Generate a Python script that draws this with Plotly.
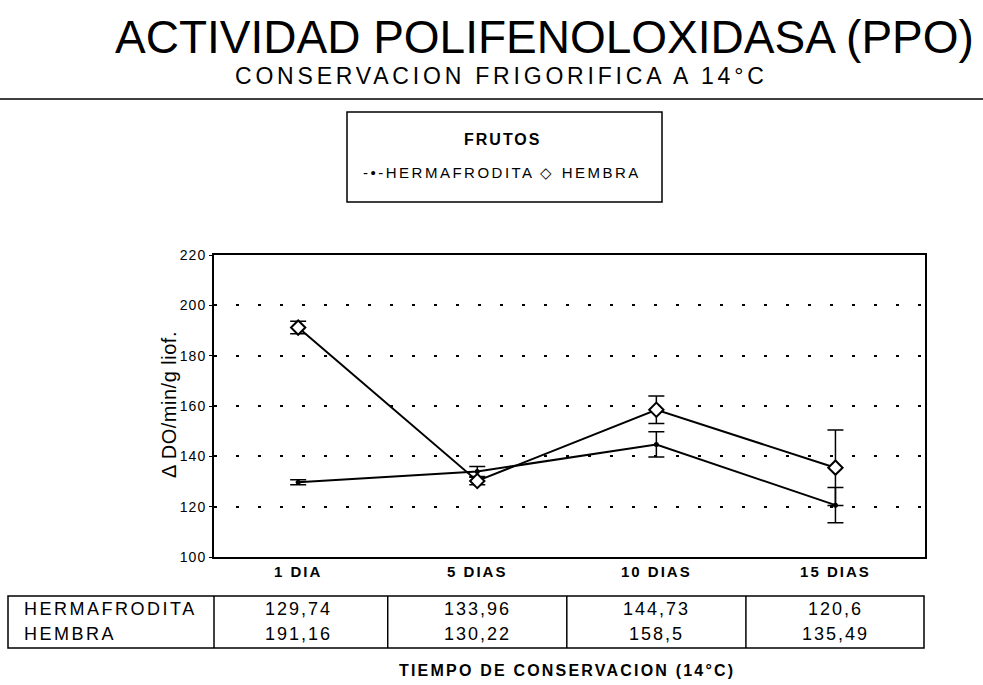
import plotly.graph_objects as go

# data
dias = ["1 DIA", "5 DIAS", "10 DIAS", "15 DIAS"]
hermafrodita = [129.74, 133.96, 144.73, 120.6]
hembra = [191.16, 130.22, 158.5, 135.49]
err_hermafrodita = [1.0, 2.0, 5.0, 7.0]
err_hembra = [2.5, 1.5, 5.5, 15.0]
y_ticks = [100, 120, 140, 160, 180, 200, 220]

FONT = "Liberation Sans, Arial, sans-serif"

# figure pixels -> paper coords (plot area is 214..925 x 255..557)
L, R, T, B = 214, 925, 255, 557


def px(x):
    return (x - L) / (R - L)


def py(y):
    return (B - y) / (B - T)


def fmt(v):
    return f"{v:g}".replace(".", ",")


def spaced(text, ls):
    # the scanned original has wide letter tracking
    return f'<span style="letter-spacing:{ls}px">{text}</span>'


fig = go.Figure()

fig.add_trace(go.Scatter(
    x=dias, y=hermafrodita,
    mode="lines+markers",
    name="HERMAFRODITA",
    line=dict(color="black", width=2),
    marker=dict(symbol="circle", size=5, color="black"),
    error_y=dict(type="data", array=err_hermafrodita, color="black",
                 thickness=1.5, width=8),
))

fig.add_trace(go.Scatter(
    x=dias, y=hembra,
    mode="lines+markers",
    name="HEMBRA",
    line=dict(color="black", width=2),
    marker=dict(symbol="diamond", size=11, color="white",
                line=dict(color="black", width=2)),
    error_y=dict(type="data", array=err_hembra, color="black",
                 thickness=1.5, width=8),
))

annotations = [
    dict(text="ACTIVIDAD POLIFENOLOXIDASA (PPO)", x=px(544), y=py(37),
         font=dict(size=46, family=FONT)),
    dict(text=spaced("CONSERVACION FRIGORIFICA A 14°C", 3.8), x=px(501), y=py(76),
         font=dict(size=23, family=FONT)),
    dict(text=spaced("FRUTOS", 2), x=px(502), y=py(139),
         font=dict(size=16, family=FONT, weight="bold")),
    dict(text=spaced("-•-HERMAFRODITA ◇ HEMBRA", 2.5), x=px(502), y=py(172),
         font=dict(size=15, family=FONT)),
    dict(text=spaced("Δ DO/min/g liof.", 0.5), x=px(169), y=py(405), textangle=-90,
         font=dict(size=20, family=FONT)),
    dict(text=spaced("TIEMPO DE CONSERVACION (14°C)", 2.2), x=px(567), y=py(670),
         font=dict(size=16, family=FONT, weight="bold")),
    dict(text=spaced("HERMAFRODITA", 2.5), x=px(22), y=py(609), xanchor="left",
         font=dict(size=18, family=FONT)),
    dict(text=spaced("HEMBRA", 2.5), x=px(22), y=py(634), xanchor="left",
         font=dict(size=18, family=FONT)),
]
for d, h, m in zip(dias, hermafrodita, hembra):
    annotations.append(dict(text=spaced(fmt(h), 2), x=d, xref="x", y=py(609),
                            font=dict(size=18, family=FONT)))
    annotations.append(dict(text=spaced(fmt(m), 2), x=d, xref="x", y=py(634),
                            font=dict(size=18, family=FONT)))

for a in annotations:
    a.setdefault("xref", "paper")
    a.setdefault("yref", "paper")
    a.setdefault("showarrow", False)
    a.setdefault("xanchor", "center")
    a.setdefault("yanchor", "middle")

shapes = [
    # rule under the subtitle
    dict(type="line", xref="paper", yref="paper", x0=px(0), x1=px(983),
         y0=py(99), y1=py(99), line=dict(color="black", width=1.5)),
    # legend box
    dict(type="rect", xref="paper", yref="paper", x0=px(347), x1=px(662),
         y0=py(112), y1=py(202), line=dict(color="black", width=1.5)),
    # table frame
    dict(type="rect", xref="paper", yref="paper", x0=px(8), x1=px(924),
         y0=py(596), y1=py(648), line=dict(color="black", width=1.5)),
    dict(type="line", xref="paper", yref="paper", x0=0, x1=0,
         y0=py(596), y1=py(648), line=dict(color="black", width=1.5)),
]
for xc in [0.5, 1.5, 2.5]:
    shapes.append(dict(type="line", xref="x", yref="paper", x0=xc, x1=xc,
                       y0=py(596), y1=py(648),
                       line=dict(color="black", width=1.5)))

fig.update_layout(
    width=983,
    height=685,
    paper_bgcolor="white",
    plot_bgcolor="white",
    showlegend=False,
    font=dict(family=FONT, color="black"),
    margin=dict(l=L, r=983 - R, t=T, b=685 - B, pad=0),
    annotations=annotations,
    shapes=shapes,
    xaxis=dict(
        type="category",
        range=[-0.47, 3.5],
        tickvals=dias,
        ticktext=[spaced(d, 2) for d in dias],
        showline=True, mirror=True, linecolor="black", linewidth=2,
        showgrid=False, ticks="",
        tickfont=dict(size=15, family=FONT, weight="bold"),
        fixedrange=True,
    ),
    yaxis=dict(
        range=[100, 220],
        tickvals=y_ticks,
        ticktext=[spaced(v, 1) for v in y_ticks],
        showline=True, mirror=True, linecolor="black", linewidth=2,
        showgrid=True, gridcolor="black", gridwidth=2, griddash="3px,19px",
        zeroline=False,
        ticks="outside", ticklen=3, tickcolor="black",
        tickfont=dict(size=14, family=FONT),
        fixedrange=True,
    ),
)

fig.write_html("out.html", config={"displayModeBar": False},
               post_script="document.body.style.margin='0';")
